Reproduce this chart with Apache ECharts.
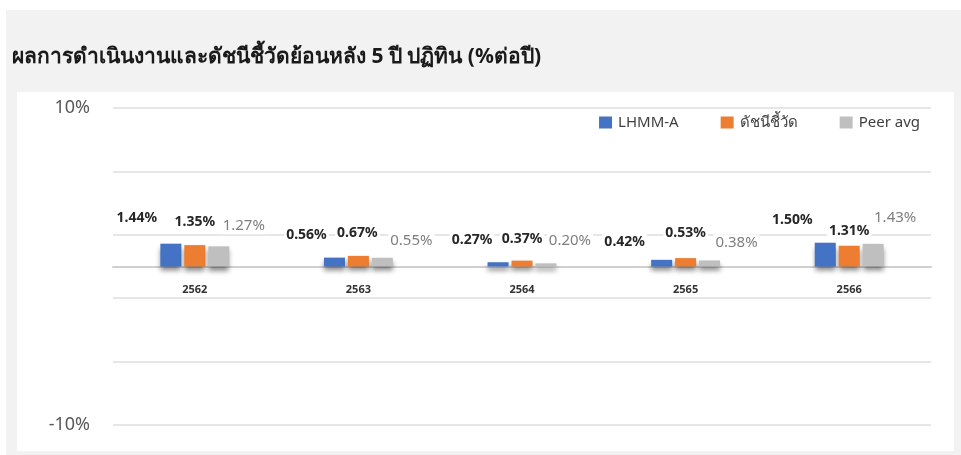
<!DOCTYPE html>
<html>
<head>
<meta charset="utf-8">
<script src="https://cdn.jsdelivr.net/npm/echarts@6/dist/echarts.min.js"></script>
<style>
  html, body { margin: 0; padding: 0; background: #ffffff; }
  #chart { width: 961px; height: 455px; }
</style>
</head>
<body>
<div id="chart"></div>
<script>
// ข้อมูลผลตอบแทนย้อนหลัง (%ต่อปี)
var years = ['2562', '2563', '2564', '2565', '2566'];
var fundValues = [1.44, 0.56, 0.27, 0.42, 1.50];
var benchValues = [1.35, 0.67, 0.37, 0.53, 1.31];
var peerValues = [1.27, 0.55, 0.20, 0.38, 1.43];
var seriesNames = ['LHMM-A', 'ดัชนีชี้วัด', 'Peer avg'];

// label nudges (px) so the labels sit where the original has them
var labelNudge = [
    [[-34, -13], [-28, -10], [-26, -9], [-37, -5], [-33, -10]],
    [[0, -10], [-1, -10], [0, -9], [0, -12], [0, -2]],
    [[25, -7], [29, -4], [24, -9], [27, -4], [22, -13]]
];

var font = 'Noto Sans, DejaVu Sans, sans-serif';
var colors = ['#4472c4', '#ed7d31', '#bfbfbf'];

function buildSeries(idx, values, labelColor, labelWeight, labelSize) {
    return {
        name: seriesNames[idx],
        type: 'bar',
        barWidth: 21,
        barGap: '14%',
        itemStyle: {
            color: colors[idx],
            shadowColor: 'rgba(0,0,0,0.45)',
            shadowBlur: 5,
            shadowOffsetY: 4
        },
        label: {
            show: true,
            position: 'top',
            distance: 5,
            fontFamily: font,
            fontSize: labelSize,
            fontWeight: labelWeight,
            color: labelColor,
            backgroundColor: '#ffffff',
            padding: [1, 2],
            formatter: function (p) { return p.value.toFixed(2) + '%'; }
        },
        data: values.map(function (v, i) {
            return { value: v, label: { offset: labelNudge[idx][i] } };
        })
    };
}

var chart = echarts.init(document.getElementById('chart'));
var option = {
    backgroundColor: '#ffffff',
    animation: false,
    color: colors,
    graphic: [
        { type: 'rect', z: -10, shape: { x: 6, y: 10, width: 955, height: 445 }, style: { fill: '#f2f2f2' } },
        { type: 'rect', z: -9, shape: { x: 17, y: 92, width: 937, height: 359 }, style: { fill: '#ffffff' } }
    ],
    title: {
        text: 'ผลการดำเนินงานและดัชนีชี้วัดย้อนหลัง 5 ปี ปฏิทิน (%ต่อปี)',
        left: 7,
        top: 42,
        textStyle: {
            fontFamily: font,
            fontSize: 21,
            fontWeight: 'bold',
            color: '#1a1a1a'
        }
    },
    legend: {
        right: 36,
        top: 110,
        icon: 'rect',
        itemWidth: 13,
        itemHeight: 12,
        itemGap: 42,
        itemStyle: { borderWidth: 0 },
        textStyle: { fontFamily: font, fontSize: 15, color: '#404040', padding: [0, 0, 0, 1] },
        data: seriesNames
    },
    grid: {
        left: 113,
        right: 30,
        top: 108,
        bottom: 30
    },
    xAxis: {
        type: 'category',
        data: years,
        offset: -158.5,
        axisTick: { show: false },
        axisLine: { show: true, onZero: false, lineStyle: { color: '#d0d0d0', width: 2 } },
        axisLabel: {
            fontFamily: font,
            fontSize: 11,
            fontWeight: 'bold',
            color: '#333333',
            margin: 18
        }
    },
    yAxis: {
        type: 'value',
        min: -10,
        max: 10,
        interval: 4,
        axisLine: { show: false },
        axisTick: { show: false },
        axisLabel: {
            fontFamily: font,
            fontSize: 18,
            color: '#595959',
            margin: 23,
            formatter: function (v) {
                return (v === 10 || v === -10) ? v + '%' : '';
            }
        },
        splitLine: { lineStyle: { color: '#e6e6e6', width: 2 } }
    },
    series: [
        buildSeries(0, fundValues, '#262626', 'bold', 14),
        buildSeries(1, benchValues, '#262626', 'bold', 14),
        buildSeries(2, peerValues, '#7f7f7f', 'normal', 15)
    ]
};
chart.setOption(option);
</script>
</body>
</html>
